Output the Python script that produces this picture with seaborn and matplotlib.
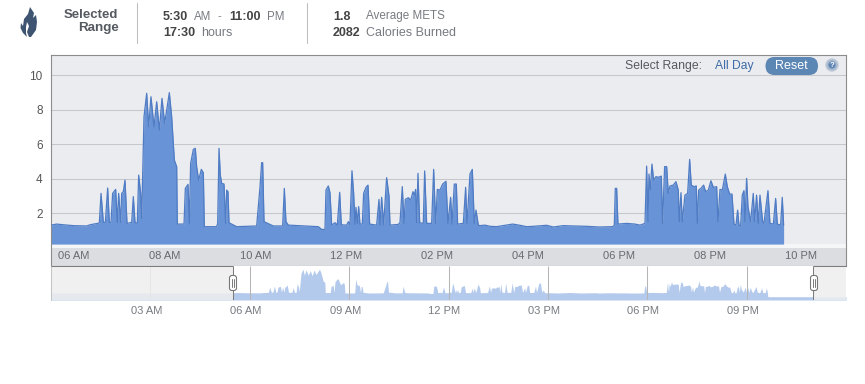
import matplotlib
matplotlib.use('Agg')
import numpy as np
import seaborn as sns
import matplotlib.pyplot as plt
from matplotlib.patches import FancyBboxPatch, Polygon, Circle
from matplotlib.transforms import ScaledTranslation

# hour of day / METS
hours = [5.5, 5.625, 5.772, 5.992, 6.285, 6.359, 6.564, 6.601, 6.652, 6.696, 6.747, 6.784, 6.821, 6.857, 6.923, 6.96, 6.989,
         7.034, 7.056, 7.092, 7.129, 7.173, 7.276, 7.312, 7.349, 7.4, 7.43, 7.474, 7.496, 7.547, 7.606, 7.65, 7.701, 7.767,
         7.826, 7.885, 7.943, 8.002, 8.105, 8.156, 8.215, 8.266, 8.281, 8.428, 8.457, 8.516, 8.545, 8.574, 8.633, 8.677,
         8.706, 8.75, 8.809, 8.853, 8.875, 9.146, 9.169, 9.198, 9.227, 9.257, 9.308, 9.345, 9.367, 9.396, 9.418, 9.587,
         10.027, 10.064, 10.1, 10.137, 10.159, 10.189, 10.394, 10.599, 10.636, 10.672, 10.724, 11.384, 11.458, 11.531,
         11.553, 11.604, 11.641, 11.678, 11.751, 11.803, 11.854, 11.891, 12.008, 12.045, 12.081, 12.125, 12.162, 12.191,
         12.213, 12.243, 12.272, 12.301, 12.353, 12.382, 12.434, 12.478, 12.514, 12.668, 12.72, 12.742, 12.778, 12.822,
         12.888, 12.94, 12.962, 13.145, 13.182, 13.233, 13.27, 13.299, 13.365, 13.417, 13.468, 13.497, 13.527, 13.549,
         13.578, 13.615, 13.695, 13.725, 13.769, 13.879, 13.923, 13.967, 14.004, 14.062, 14.121, 14.194, 14.238, 14.297,
         14.326, 14.378, 14.422, 14.451, 14.576, 14.627, 14.657, 14.723, 14.774, 14.818, 14.855, 14.906, 14.943, 15.053,
         15.163, 15.31, 15.456, 15.662, 15.823, 15.97, 16.117, 16.41, 16.557, 16.777, 16.997, 17.291, 17.569, 17.863,
         17.9, 17.922, 17.951, 17.98, 18.171, 18.354, 18.465, 18.575, 18.611, 18.641, 18.663, 18.692, 18.729, 18.765,
         18.817, 18.868, 18.934, 18.963, 19.007, 19.052, 19.088, 19.125, 19.198, 19.257, 19.308, 19.33, 19.367, 19.396,
         19.455, 19.514, 19.558, 19.594, 19.653, 19.704, 19.727, 19.756, 19.807, 19.866, 19.91, 19.969, 20.027, 20.079,
         20.152, 20.181, 20.226, 20.277, 20.343, 20.387, 20.438, 20.49, 20.534, 20.578, 20.614, 20.644, 20.68, 20.717,
         20.754, 20.776, 20.812, 20.842, 20.9, 20.959, 20.988, 21.031, 21.069, 21.106, 21.165, 21.194, 21.282, 21.326,
         21.4, 21.451, 21.488, 21.561, 21.597, 21.627]
mets = [1.30, 1.36, 1.32, 1.27, 1.25, 1.32, 1.42, 3.14, 1.46, 1.46, 3.45, 1.46, 1.46, 3.14, 3.37, 1.46, 3.14,
        1.46, 3.14, 3.24, 3.91, 1.40, 1.46, 2.95, 1.46, 1.40, 4.20, 3.14, 1.69, 7.58, 8.94, 7.00, 8.74, 7.00,
        8.45, 6.81, 8.65, 7.20, 8.98, 7.58, 5.07, 4.69, 1.36, 1.36, 3.43, 3.66, 1.40, 4.88, 5.69, 5.75,
        4.69, 3.91, 4.53, 4.34, 1.21, 1.21, 1.40, 5.75, 4.20, 3.72, 3.68, 1.40, 3.33, 3.24, 1.44, 1.21,
        1.25, 2.37, 3.49, 4.92, 4.92, 1.50, 1.25, 1.25, 3.43, 1.50, 1.30, 1.21, 1.05, 1.05,
        3.33, 3.57, 3.18, 1.30, 1.44, 1.30, 3.20, 1.32, 1.30, 1.50, 1.34, 4.45, 3.14, 1.34,
        2.33, 1.40, 2.37, 1.36, 1.36, 3.14, 3.49, 3.62, 1.36, 1.30, 2.79, 1.30, 2.91, 1.32,
        4.05, 2.99, 1.30, 1.34, 1.44, 3.53, 1.40, 2.79, 2.89, 2.75, 3.24, 3.04, 3.37, 1.44,
        4.30, 1.44, 1.40, 4.44, 1.40, 1.40, 4.53, 1.40, 3.37, 3.33, 3.68, 3.84, 1.40, 2.91,
        1.36, 3.68, 3.68, 1.36, 1.40, 3.49, 1.40, 4.26, 4.53, 1.40, 2.17, 1.30, 1.27, 1.30,
        1.23, 1.21, 1.27, 1.36, 1.29, 1.21, 1.23, 1.29, 1.19, 1.27, 1.25, 1.23, 1.19, 1.21,
        1.30, 3.43, 3.43, 1.36, 1.40, 1.36, 1.30, 1.40, 4.72, 1.50, 4.26, 3.33, 4.84, 3.91,
        4.11, 4.07, 4.14, 1.40, 4.69, 4.69, 3.14, 3.57, 3.62, 3.82, 3.33, 1.50, 3.18, 1.50,
        3.04, 3.14, 5.11, 3.62, 3.53, 3.57, 1.40, 3.33, 3.43, 3.62, 3.24, 3.33, 3.87, 3.49,
        3.53, 1.50, 3.37, 3.33, 4.26, 3.53, 3.10, 3.10, 1.36, 1.30, 2.17, 1.30, 1.25, 3.04,
        3.30, 1.50, 4.01, 2.37, 1.50, 3.14, 1.50, 3.04, 1.40, 3.04, 1.50, 1.40, 3.30, 1.40,
        1.36, 2.85, 1.36, 1.30, 2.91, 1.30]

# rest of the day, only visible in the navigator
early_hours = [0.0, 5.49]
early_mets = [1.2, 1.2]
late_hours = [21.64, 24.0]
late_mets = [0.0, 0.0]

main_ticks = [6, 8, 10, 12, 14, 16, 18, 20, 22]
main_labels = ['06 AM', '08 AM', '10 AM', '12 PM', '02 PM', '04 PM', '06 PM', '08 PM', '10 PM']
y_ticks = [2, 4, 6, 8, 10]
nav_ticks = [3, 6, 9, 12, 15, 18, 21]
nav_labels = ['03 AM', '06 AM', '09 AM', '12 PM', '03 PM', '06 PM', '09 PM']
sel_start = 5.5
sel_end = 23.0

sns.set_theme(style='white')
plt.rcParams['font.family'] = ['Liberation Sans', 'DejaVu Sans']

W, H = 865, 384
fig = plt.figure(figsize=(W / 100, H / 100), dpi=100, facecolor='white')


def px_axes(x0, y0, x1, y1):
    return fig.add_axes([x0 / W, 1 - y1 / H, (x1 - x0) / W, (y1 - y0) / H])


def txt(x, y, s, size=8.6, color='#666a70', weight='normal', ha='left'):
    fig.text(x / W, 1 - y / H, s, fontsize=size, color=color, fontweight=weight, ha=ha, va='center')


# main chart
ax = px_axes(51, 55, 846, 266)
ax.set_xlim(sel_start, sel_end)
ax.set_ylim(-1.07, 11.16)
ax.set_facecolor('#ebecf0')
ax.set_axisbelow(False)
ax.axhspan(-1.07, 0, color='#dcdde1', lw=0, zorder=1)
ax.axhspan(0, 0.2, color='#f5f6f8', lw=0, zorder=1)
ax.hlines(y_ticks, sel_start, sel_end, color='#c6c7ca', lw=0.75, zorder=1.5)
ax.fill_between(hours, 0.2, mets, color='#6893d6', lw=0, zorder=2)
sns.lineplot(x=hours, y=mets, ax=ax, color='#4f7cc4', lw=0.9, estimator=None, errorbar=None, zorder=3)
ax.set_xticks(main_ticks)
ax.set_xticklabels(main_labels, fontsize=8, color='#666a70')
ax.set_yticks(y_ticks)
ax.set_yticklabels([str(v) for v in y_ticks], fontsize=8.5, color='#555555')
ax.tick_params(axis='x', length=0, pad=-10.5)
ax.tick_params(axis='y', length=0, pad=6)
ax.grid(False)
for s in ax.spines.values():
    s.set_color('#8c8c8c')
    s.set_linewidth(0.8)

# navigator
nav = px_axes(51, 266, 846, 300)
nav.set_xlim(0, 24)
nav.set_ylim(-1.07, 9.97)
nav.set_facecolor('white')
nav_x = early_hours + hours + late_hours
nav_y = early_mets + mets + late_mets
nav.fill_between(nav_x, -1.07, nav_y, color='#b4caec', lw=0, zorder=2)
nav.vlines(nav_ticks, -1.07, 9.97, color='#b5b5b5', lw=0.75, zorder=3)
nav.axvspan(0, sel_start, color='#eeeeee', alpha=0.85, lw=0, zorder=4)
nav.axvspan(sel_end, 24, color='#eeeeee', alpha=0.85, lw=0, zorder=4)
nav.set_xticks(nav_ticks)
nav.set_xticklabels(nav_labels, fontsize=8, color='#777b80')
nav.set_yticks([])
nav.tick_params(axis='x', length=0, pad=4)
for lab in nav.get_xticklabels():
    lab.set_transform(lab.get_transform() + ScaledTranslation(-4 / 100, 0, fig.dpi_scale_trans))
for s in nav.spines.values():
    s.set_visible(False)
nav.axvline(0, color='#c4c4c4', lw=0.75, zorder=5, clip_on=False)
nav.vlines([sel_start, sel_end], -1.07, 9.97, color='#7d7d7d', lw=0.75, zorder=5)
nav.hlines(9.97, 0, sel_start, color='#7d7d7d', lw=0.75, zorder=5, clip_on=False)
nav.hlines(9.97, sel_end, 24, color='#7d7d7d', lw=0.75, zorder=5, clip_on=False)

# overlay in pixel coordinates for the header and the widgets
ov = fig.add_axes([0, 0, 1, 1], facecolor='none')
ov.set_xlim(0, W)
ov.set_ylim(H, 0)
ov.axis('off')

# navigator handles
for hx in (233, 814):
    ov.add_patch(FancyBboxPatch((hx - 3.5, 275.5), 7, 15, boxstyle='round,pad=0,rounding_size=2.5', mutation_aspect=1,
                                fc='white', ec='#777777', lw=0.8, zorder=6))
    ov.plot([hx - 1.2, hx - 1.2], [279, 287], color='#777777', lw=0.7, zorder=7)
    ov.plot([hx + 1.2, hx + 1.2], [279, 287], color='#777777', lw=0.7, zorder=7)

# flame icon
flame = [(30, 7), (34, 13), (33, 18), (36, 15), (37, 22), (36, 30), (31, 37), (29, 37), (27, 32), (29, 26), (27, 22),
         (26, 27), (26, 33), (27, 37), (23, 33), (20.5, 28), (21, 23), (23, 26), (24, 19), (28, 14)]
ov.add_patch(Polygon(flame, closed=True, fc='#3f5470', ec='none'))

# header
ov.plot([136.5, 136.5], [3, 43], color='#bdbdbd', lw=0.75)
ov.plot([306.5, 306.5], [3, 43], color='#bdbdbd', lw=0.75)
txt(118.5, 15, 'Selected', size=9.5, color='#555a60', weight='bold', ha='right')
txt(118.5, 28.5, 'Range', size=9.6, color='#555a60', weight='bold', ha='right')
txt(162.5, 16.5, '5:30', size=9, color='#444444', weight='bold')
txt(194, 16.5, 'AM', size=8.3, color='#777b80')
txt(218, 16.5, '-', size=8, color='#777b80')
txt(229, 16.5, '11:00', size=9, color='#444444', weight='bold')
txt(267, 16.5, 'PM', size=8.3, color='#777b80')
txt(163, 33, '17:30', size=9, color='#444444', weight='bold')
txt(201, 33, 'hours', size=9, color='#777b80')
txt(333, 16.5, '1.8', size=9, color='#444444', weight='bold')
txt(366, 16.5, 'Average METS', size=8.4, color='#777b80')
txt(333, 33, '2082', size=9, color='#444444', weight='bold')
txt(366, 33, 'Calories Burned', size=9, color='#777b80')

# range selector
txt(625, 65.5, 'Select Range:', size=8.8, color='#555a60')
txt(715, 65.5, 'All Day', size=8.7, color='#3f6ca6')
ov.add_patch(FancyBboxPatch((765.5, 57), 52.5, 18, boxstyle='round,pad=0,rounding_size=9', mutation_aspect=1,
                            fc='#5c86b4', ec='none', zorder=6))
ov.text(791.5, 66, 'Reset', fontsize=9, color='white', ha='center', va='center', zorder=7)
ov.add_patch(Circle((832, 65), 6.2, fc='#a9b9cf', ec='#c8d0dc', lw=0.8, zorder=6))
ov.add_patch(Circle((832, 65), 3.6, fc='#5f86b4', ec='none', zorder=7))
ov.text(832, 65.2, '?', fontsize=5.5, color='white', ha='center', va='center', weight='bold', zorder=8)

fig.savefig('out.png', dpi=100)
